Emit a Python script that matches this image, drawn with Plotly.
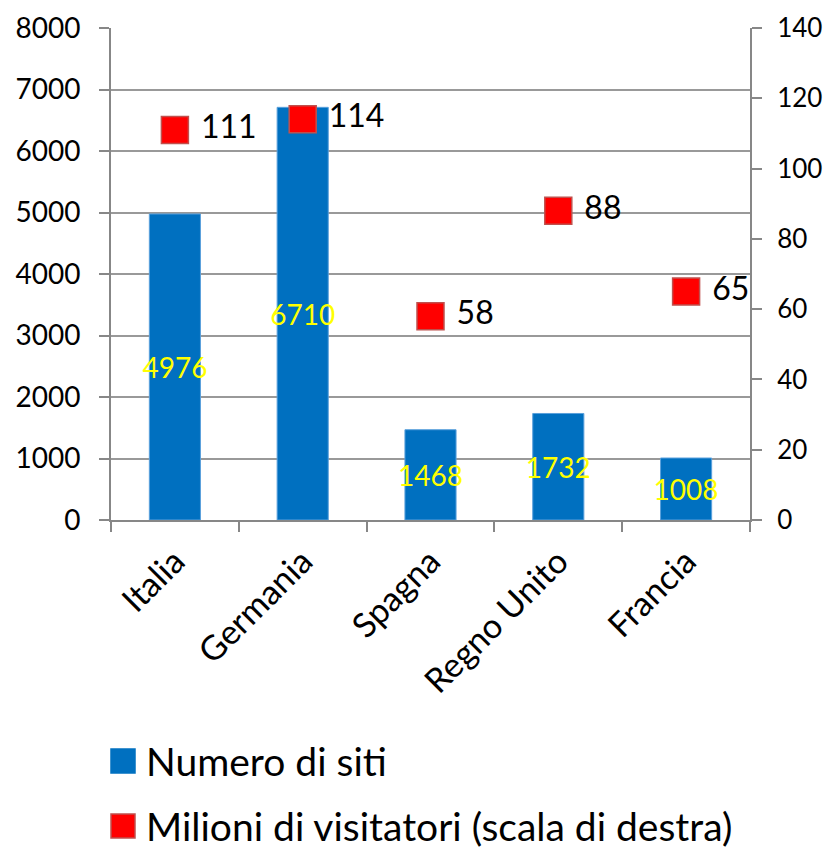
import plotly.graph_objects as go

categories = ["Italia", "Germania", "Spagna", "Regno Unito", "Francia"]
siti = [4976, 6710, 1468, 1732, 1008]
visitatori = [111, 114, 58, 88, 65]
left_ticks = [0, 1000, 2000, 3000, 4000, 5000, 6000, 7000, 8000]
right_ticks = [0, 20, 40, 60, 80, 100, 120, 140]
series_names = ["Numero di siti", "Milioni di visitatori (scala di destra)"]
series_colors = ["#0070C0", "#FF0000"]
series_borders = ["#0070C0", "#C0504D"]

FONT = "Lato"
AX = "#878787"
OFF = 8  # page body margin
W, H = 834 - OFF, 848 - OFF
ML, MT = 111 - OFF, 28 - OFF
PR, PB = 750 - OFF, 520 - OFF
MR, MB = W - PR, H - PB
PW, PH = PR - ML, PB - MT

fig = go.Figure()
fig.add_trace(go.Bar(
    x=categories, y=siti, name=series_names[0],
    marker=dict(color=series_colors[0], line=dict(color="#5AA0DC", width=1)),
    text=[str(v) for v in siti], textposition="inside", insidetextanchor="middle",
    constraintext="none", textangle=0,
    textfont=dict(color="#FFFF00", size=28, family=FONT),
    showlegend=False,
))
fig.add_trace(go.Scatter(
    x=categories, y=visitatori, name=series_names[1],
    mode="markers+text", yaxis="y2",
    marker=dict(symbol="square", size=27, color=series_colors[1], line=dict(color=series_borders[1], width=1.5)),
    text=[" " + str(v) for v in visitatori], textposition="middle right",
    textfont=dict(color="black", size=32, family=FONT),
    showlegend=False,
))

# manual legend (larger symbols than plotly's legend allows)
legend_y_px = [761 - OFF, 826 - OFF]
shapes = []
annotations = []
for name, col, bcol, ypx in zip(series_names, series_colors, series_borders, legend_y_px):
    x0 = (111 - OFF - ML) / PW
    x1 = (135 - OFF - ML) / PW
    y0 = (PB - (ypx + 12)) / PH
    y1 = (PB - (ypx - 12)) / PH
    shapes.append(dict(type="rect", xref="paper", yref="paper", x0=x0, x1=x1, y0=y0, y1=y1,
                       fillcolor=col, line=dict(color=bcol, width=1.5)))
    annotations.append(dict(xref="paper", yref="paper", x=(144 - OFF - ML) / PW,
                            y=(PB - ypx) / PH, xanchor="left", yanchor="middle",
                            text=name, showarrow=False,
                            font=dict(size=39, family=FONT, color="black")))

fig.update_layout(
    width=W, height=H,
    margin=dict(l=ML, r=MR, t=MT, b=MB, autoexpand=False),
    paper_bgcolor="white", plot_bgcolor="white",
    font=dict(family=FONT, color="black", size=27),
    bargap=0.6,
    showlegend=False,
    shapes=shapes, annotations=annotations,
    xaxis=dict(type="category", showline=True, linecolor=AX, linewidth=2,
               ticks="outside", tickson="boundaries", ticklen=10, tickcolor=AX, tickwidth=2,
               tickangle=-45, tickfont=dict(size=34, family=FONT), showgrid=False,
               ticklabelstandoff=6, automargin=False),
    yaxis=dict(range=[0, 8000], tickvals=left_ticks, showline=True, linecolor=AX, linewidth=2,
               ticks="outside", ticklen=10, tickcolor=AX, tickwidth=2,
               showgrid=True, gridcolor="#999999", gridwidth=2, zeroline=False,
               tickfont=dict(size=28, family=FONT), ticklabelstandoff=13, automargin=False),
    yaxis2=dict(range=[0, 140], tickvals=right_ticks, overlaying="y", side="right",
                showline=True, linecolor=AX, linewidth=2,
                ticks="outside", ticklen=10, tickcolor=AX, tickwidth=2,
                showgrid=False, zeroline=False, tickfont=dict(size=26, family=FONT),
                ticklabelstandoff=10, automargin=False),
)

fig.write_html("out.html")
